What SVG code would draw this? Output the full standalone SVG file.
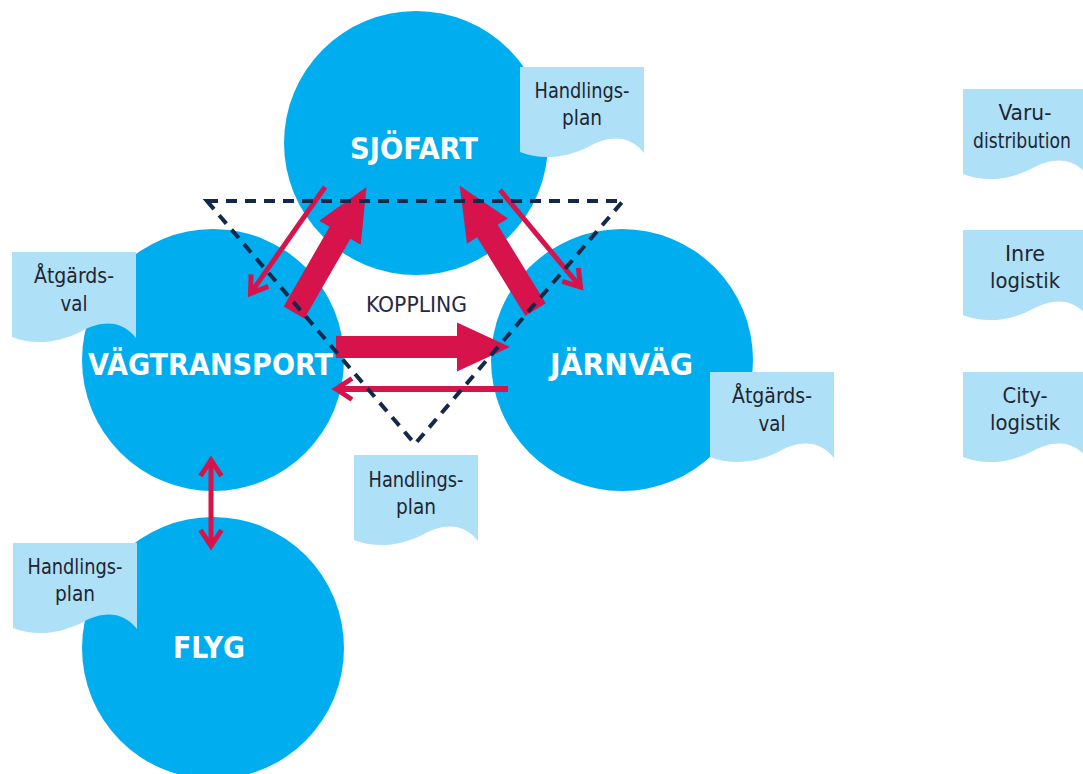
<svg xmlns="http://www.w3.org/2000/svg" xmlns:xlink="http://www.w3.org/1999/xlink" width="1083" height="774" viewBox="0 0 1083 774">
  <style>
    .mode { fill: #00aeef; }
    .doc { fill: #aee1f8; }
    .mode-label { font-family: "Liberation Sans Narrow", "DejaVu Sans Condensed", "Liberation Sans", sans-serif; font-weight: bold; font-size: 31px; fill: #ffffff; text-anchor: middle; }
    .doc-label { font-family: "Liberation Sans Narrow", "DejaVu Sans Condensed", "Liberation Sans", sans-serif; font-size: 22px; fill: #22252f; text-anchor: middle; }
    .coupling { font-family: "Liberation Sans Narrow", "DejaVu Sans Condensed", "Liberation Sans", sans-serif; font-size: 22px; fill: #1f2a44; text-anchor: middle; }
    .thick { fill: #d6134b; }
    .thin { fill: none; stroke: #d6134b; stroke-width: 5; marker-end: url(#chev); }
    .dash { fill: none; stroke: #13294b; stroke-width: 4; stroke-dasharray: 11 8; }
  </style>
  <defs>
    <!-- document sheet with a wavy lower edge -->
    <path id="doc" d="M0,0 H124 V86 C110,68 90,68 70,79 C45,92 20,93 0,85 Z"/>
    <!-- heavy block arrow pointing along +x -->
    <path id="block" d="M0,-12 H92 V-24 L145,0 L92,24 V12 H0 Z"/>
    <marker id="chev" viewBox="-20 -14 28 28" refX="0" refY="0" markerWidth="28" markerHeight="28" markerUnits="userSpaceOnUse" orient="auto-start-reverse" overflow="visible">
      <path d="M-16,-10.5 L0,0 L-16,10.5" fill="none" stroke="#d6134b" stroke-width="5" stroke-linejoin="miter"/>
    </marker>
  </defs>

  <!-- transport modes -->
  <g id="sjofart">
    <circle class="mode" cx="416" cy="143" r="132"/>
  </g>
  <g id="vagtransport">
    <circle class="mode" cx="213" cy="360" r="131"/>
  </g>
  <g id="jarnvag">
    <circle class="mode" cx="622" cy="360" r="131"/>
  </g>
  <g id="flyg">
    <circle class="mode" cx="213" cy="648" r="131"/>
  </g>

  <!-- action plans and choices attached to each mode -->
  <g id="doc-sjofart">
    <use href="#doc" class="doc" x="520" y="67"/>
    <text class="doc-label" x="582" y="98" textLength="95" lengthAdjust="spacingAndGlyphs">Handlings-</text>
    <text class="doc-label" x="582" y="125" textLength="40" lengthAdjust="spacingAndGlyphs">plan</text>
  </g>
  <g id="doc-vag">
    <use href="#doc" class="doc" x="12" y="252"/>
    <text class="doc-label" x="74" y="283" textLength="80" lengthAdjust="spacingAndGlyphs">Åtgärds-</text>
    <text class="doc-label" x="74" y="311" textLength="27" lengthAdjust="spacingAndGlyphs">val</text>
  </g>
  <g id="doc-koppling">
    <use href="#doc" class="doc" x="354" y="455"/>
    <text class="doc-label" x="416" y="487" textLength="95" lengthAdjust="spacingAndGlyphs">Handlings-</text>
    <text class="doc-label" x="416" y="514" textLength="40" lengthAdjust="spacingAndGlyphs">plan</text>
  </g>
  <g id="doc-jarnvag">
    <use href="#doc" class="doc" x="710" y="372"/>
    <text class="doc-label" x="772" y="403" textLength="80" lengthAdjust="spacingAndGlyphs">Åtgärds-</text>
    <text class="doc-label" x="772" y="431" textLength="27" lengthAdjust="spacingAndGlyphs">val</text>
  </g>
  <g id="doc-flyg">
    <use href="#doc" class="doc" x="13" y="543"/>
    <text class="doc-label" x="75" y="574" textLength="95" lengthAdjust="spacingAndGlyphs">Handlings-</text>
    <text class="doc-label" x="75" y="601" textLength="40" lengthAdjust="spacingAndGlyphs">plan</text>
  </g>

  <!-- logistics themes -->
  <g id="varudistribution">
    <use href="#doc" class="doc" x="963" y="89"/>
    <text class="doc-label" x="1025" y="120" textLength="53" lengthAdjust="spacingAndGlyphs">Varu-</text>
    <text class="doc-label" x="1022" y="148" textLength="98" lengthAdjust="spacingAndGlyphs">distribution</text>
  </g>
  <g id="inre-logistik">
    <use href="#doc" class="doc" x="963" y="230"/>
    <text class="doc-label" x="1025" y="261" textLength="40" lengthAdjust="spacingAndGlyphs">Inre</text>
    <text class="doc-label" x="1025" y="288" textLength="70" lengthAdjust="spacingAndGlyphs">logistik</text>
  </g>
  <g id="citylogistik">
    <use href="#doc" class="doc" x="963" y="372"/>
    <text class="doc-label" x="1025" y="403" textLength="45" lengthAdjust="spacingAndGlyphs">City-</text>
    <text class="doc-label" x="1025" y="430" textLength="70" lengthAdjust="spacingAndGlyphs">logistik</text>
  </g>

  <!-- flows between modes -->
  <g id="connectors">
    <use href="#block" class="thick" transform="translate(294,312.5) rotate(-60)"/>
    <use href="#block" class="thick" transform="translate(535.5,309.5) rotate(-121.5)"/>
    <path class="thick" d="M336,336 H457 V322.5 L510,347 L457,371.5 V358 H336 Z"/>
    <line class="thin" x1="325" y1="187" x2="250.5" y2="293.5"/>
    <line class="thin" x1="500" y1="190" x2="580.5" y2="287"/>
    <line class="thin" x1="508" y1="389" x2="336" y2="389" style="stroke-width:6"/>
    <line class="thin" x1="211" y1="460" x2="211" y2="546" style="marker-start:url(#chev)"/>
    <polygon class="dash" points="207,201 623,201 415,444"/>
  </g>

  <!-- labels -->
  <text class="mode-label" x="414" y="159" textLength="128" lengthAdjust="spacingAndGlyphs">SJÖFART</text>
  <text class="mode-label" x="210.5" y="375" textLength="245" lengthAdjust="spacingAndGlyphs">VÄGTRANSPORT</text>
  <text class="mode-label" x="621.5" y="375" textLength="143" lengthAdjust="spacingAndGlyphs">JÄRNVÄG</text>
  <text class="mode-label" x="209" y="658" textLength="72" lengthAdjust="spacingAndGlyphs">FLYG</text>
  <text class="coupling" x="416.5" y="312" textLength="101" lengthAdjust="spacingAndGlyphs">KOPPLING</text>
</svg>
